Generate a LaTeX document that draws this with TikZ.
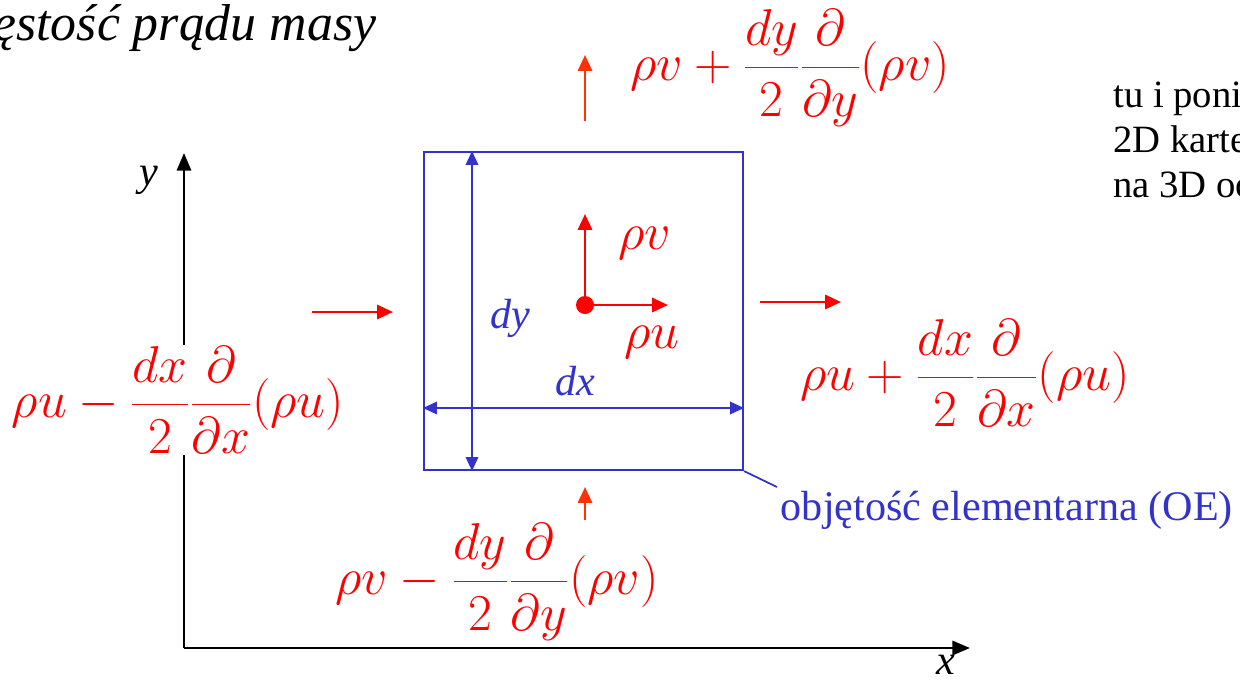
\RequirePackage{fix-cm}
\documentclass[tikz,border=0pt]{standalone}
\usepackage[no-math]{fontspec}
\setmainfont{Liberation Serif}
\usetikzlibrary{arrows.meta}

\definecolor{oeblue}{RGB}{51,51,204}
\definecolor{fluxred}{RGB}{255,0,0}
\definecolor{fluxorange}{RGB}{255,51,0}

\tikzset{
	flux/.style={fluxred, line width=1.5pt, -{Triangle[length=9pt,width=8pt]}},
	fluxv/.style={fluxorange, line width=1.5pt, -{Triangle[length=9pt,width=8pt]}},
	dim/.style={oeblue, line width=1.3pt, {Triangle[length=8pt,width=7pt]}-{Triangle[length=8pt,width=7pt]}},
	axis/.style={black, line width=1.6pt, -{Triangle[length=10pt,width=8pt]}},
	formula/.style={fluxred, font=\fontsize{29.5}{34}\selectfont, inner sep=1pt},
	dimlabel/.style={oeblue, font=\fontsize{24}{28}\selectfont\itshape},
	axlabel/.style={font=\fontsize{24}{28}\selectfont\itshape},
	notetext/.style={anchor=base west, inner sep=0pt, font=\fontsize{22}{26}\selectfont},
}

\begin{document}
\begin{tikzpicture}[x=0.02cm, y=-0.02cm]
		\useasboundingbox (0,0) rectangle (1240,684);

		% title and side note (cut by the page edge)
		\node[anchor=base west, inner sep=0pt, font=\fontsize{29.5}{34}\selectfont\itshape] (title) at (-7,40) {ęstość prądu masy};
		\node[notetext] (note1) at (1113,107) {tu i poni};
		\node[notetext] (note2) at (1113,152) {2D karte};
		\node[notetext] (note3) at (1113,197) {na 3D oc};

		% axes
		\coordinate (O) at (184,648);
		\coordinate (ytip) at (184,153);
		\coordinate (xtip) at (970,648);
		\draw[axis] (O) -- (ytip);
		\draw[axis] (O) -- (xtip);
		\node[axlabel] (ylab) at (149,180) {y};
		\node[axlabel] (xlab) at (946,665) {x};

		% elementary volume
		\node[draw=oeblue, line width=1.3pt, minimum width=6.38cm, minimum height=6.36cm, inner sep=0pt] (box) at (583.5,311) {};
		\coordinate (dyx) at (472,0);
		\coordinate (dxy) at (0,408);
		\draw[dim] (box.north -| dyx) -- (box.south -| dyx);
		\draw[dim] (box.west |- dxy) -- (box.east |- dxy);
		\node[dimlabel] (dylab) at (510,318) {dy};
		\node[dimlabel] (dxlab) at (575,381) {dx};

		% centre point and its fluxes
		\node[circle, fill=fluxred, inner sep=0pt, minimum size=0.36cm] (c) at (585,305) {};
		\coordinate (vtip) at (585,214);
		\coordinate (utip) at (668,305);
		\draw[flux] (c.center) -- (vtip);
		\draw[flux] (c.center) -- (utip);
		\node[formula] (rv) at (645,243) {$\rho v$};
		\node[formula] (ru) at (652,342) {$\rho u$};

		% fluxes through the faces
		\coordinate (inL) at (312,312);
		\coordinate (inLtip) at (393,312);
		\coordinate (outR) at (760,302);
		\coordinate (outRtip) at (841,302);
		\coordinate (outT) at (585,121);
		\coordinate (outTtip) at (585,55);
		\coordinate (inB) at (585,520);
		\coordinate (inBtip) at (585,487);
		\draw[flux] (inL) -- (inLtip);
		\draw[flux] (outR) -- (outRtip);
		\draw[fluxv] (outT) -- (outTtip);
		\draw[fluxv] (inB) -- (inBtip);

		\node[formula, fill=white] (fl) at (178,400) {$\displaystyle \rho u-\frac{dx}{2}\frac{\partial}{\partial x}(\rho u)$};
		\node[formula] (fr) at (965,373) {$\displaystyle \rho u+\frac{dx}{2}\frac{\partial}{\partial x}(\rho u)$};
		\node[formula] (ft) at (790,68) {$\displaystyle \rho v+\frac{dy}{2}\frac{\partial}{\partial y}(\rho v)$};
		\node[formula] (fb) at (497,582) {$\displaystyle \rho v-\frac{dy}{2}\frac{\partial}{\partial y}(\rho v)$};

		% label of the volume
		\node[anchor=north west, inner sep=2pt, oeblue, font=\fontsize{24}{28}\selectfont] (oelab) at (777,487) {objętość elementarna (OE)};
		\draw[oeblue, line width=1pt] (box.south east) -- (oelab.north west);

	\end{tikzpicture}
\end{document}
